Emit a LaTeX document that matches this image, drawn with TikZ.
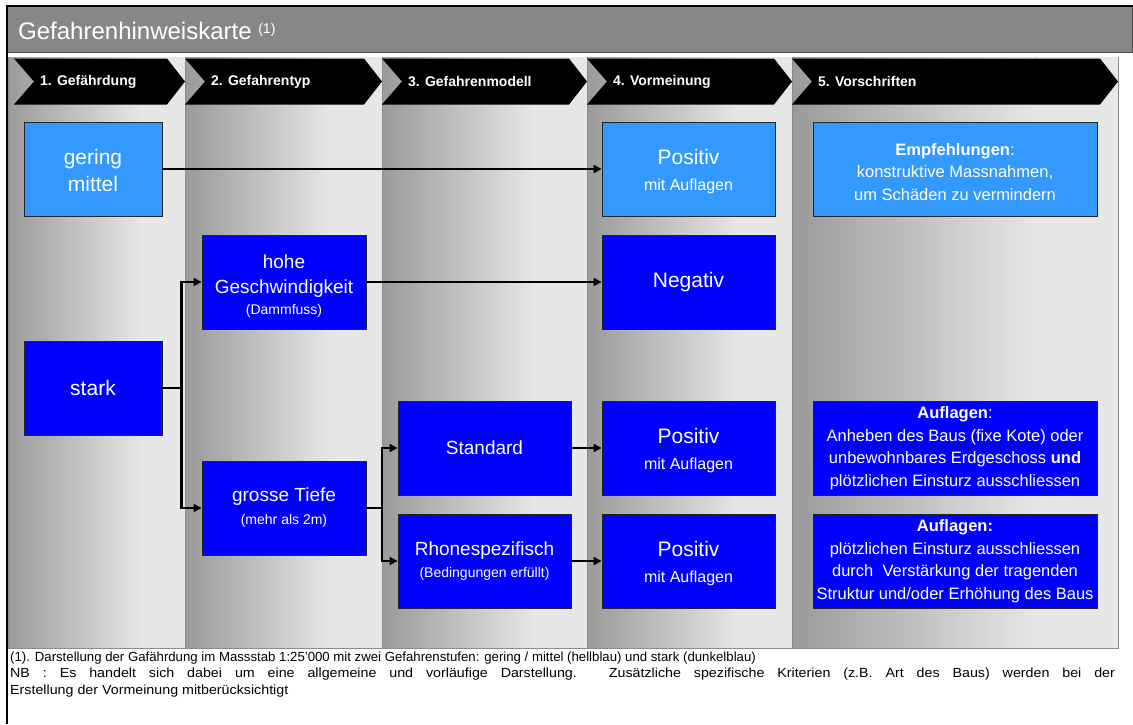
\documentclass[tikz,border=0pt]{standalone}
\usepackage{fontspec}
\setmainfont{Liberation Sans}
\usetikzlibrary{arrows.meta}

\definecolor{lightblue}{HTML}{3399FF}
\definecolor{darkblue}{HTML}{0000FF}
\definecolor{colDark}{HTML}{9A9A9A}
\definecolor{colLight}{HTML}{E7E7E7}
\definecolor{headGray}{HTML}{878787}
\definecolor{edgeGray}{HTML}{8C8C8C}

\newcommand{\fs}[2]{\fontsize{#1}{#2}\selectfont}

\tikzset{
  box/.style={draw=black!85, line width=0.8pt, text=white, align=center,
              inner sep=0pt, minimum height=94pt},
  lbox/.style={box, fill=lightblue},
  dbox/.style={box, fill=darkblue},
  wA/.style={minimum width=138pt},
  wB/.style={minimum width=164pt},
  wC/.style={minimum width=173pt},
  wD/.style={minimum width=284pt},
  wire/.style={line width=2.5pt, draw=black},
  conn/.style={wire, -{Triangle[length=8pt,width=8pt]}},
  chevtext/.style={anchor=west, text=white, inner sep=0pt, font=\bfseries\fs{14}{16}},
  foottext/.style={anchor=base west, inner sep=0pt, font=\fs{13.2}{16.5}},
}

\begin{document}
\begin{tikzpicture}[x=1pt,y=-1pt]
\useasboundingbox (0,0) rectangle (1133,724);
\fill[white] (0,0) rectangle (1133,724);

% shaded columns
\foreach \l/\r in {8/185,185/382,382/587,587/792,792/1118}{
  \fill[left color=colDark,right color=colLight] (\l,57) rectangle ({\l+0.75*(\r-\l)},648);
  \fill[colLight] ({\l+0.75*(\r-\l)},57) rectangle (\r,648);
  \draw[edgeGray, line width=0.8pt] (\l,57) -- (\l,648);
}
\draw[edgeGray, line width=0.8pt] (1118,57) -- (1118,648) -- (8,648);

% step chevrons
\foreach \l/\r/\t [count=\i] in {14/185/1. Gefährdung,185/382/2. Gefahrentyp,382/587/3. Gefahrenmodell,587/792/4. Vormeinung,792/1118/5. Vorschriften}{
  \fill[black] (\l,58.5) -- ({\r-18},58.5) -- (\r,81.5) -- ({\r-18},104.5) -- (\l,104.5) -- ({\l+20},81.5) -- cycle;
  \node[chevtext] (chev\i) at ({\l+26},81.5) {\t};
}

% title bar
\fill[headGray] (7,7) rectangle (1132,52);
\draw[black!70, line width=1pt] (1132,7) -- (1132,52) -- (7,52);
\draw[black, line width=2pt] (6,6) -- (1133,6);
\draw[black, line width=2pt] (7,5) -- (7,724);
\node[anchor=base west, text=white, inner sep=0pt, font=\fs{24}{24}] (title) at (18,39)
  {Gefahrenhinweiskarte \raisebox{6pt}{\fs{14}{14}(1)}};

% boxes
\node[lbox, wA, font=\fs{21}{27}] (gering) at (93,169) {\rule{0pt}{19pt}gering\\mittel};
\node[dbox, wA, font=\fs{21}{28}] (stark) at (93,388) {stark};
\node[dbox, wB, font=\fs{19}{25.5}] (hohe) at (284,282)
  {\rule{0pt}{21pt}hohe\\Geschwindigkeit\\[-5pt]{\fs{14}{16}(Dammfuss)}};
\node[dbox, wB, font=\fs{19}{23}] (grosse) at (284,508)
  {grosse Tiefe\\{\fs{14}{16}(mehr als 2m)}};
\node[dbox, wC, font=\fs{19}{23}] (std) at (484.5,448) {Standard};
\node[dbox, wC, font=\fs{19}{22}] (rhone) at (484.5,561)
  {Rhonespezifisch\\{\fs{14}{16}(Bedingungen erfüllt)}};
\node[lbox, wC, font=\fs{21}{25.5}] (pos1) at (688.5,169)
  {\rule{0pt}{20pt}Positiv\\{\fs{16}{18}mit Auflagen}};
\node[dbox, wC, font=\fs{21}{25}] (neg) at (688.5,282) {Negativ};
\node[dbox, wC, font=\fs{21}{25.5}] (pos2) at (688.5,448)
  {\rule{0pt}{20pt}Positiv\\{\fs{16}{18}mit Auflagen}};
\node[dbox, wC, font=\fs{21}{25.5}] (pos3) at (688.5,561)
  {\rule{0pt}{20pt}Positiv\\{\fs{16}{18}mit Auflagen}};
\node[lbox, wD, font=\fs{16.5}{22.5}] (empf) at (955,169)
  {\rule{0pt}{18pt}\textbf{Empfehlungen}:\\konstruktive Massnahmen,\\um Schäden zu vermindern};
\node[dbox, wD, font=\fs{16.5}{22.5}] (aufl1) at (955,448)
  {\textbf{Auflagen}:\\Anheben des Baus (fixe Kote) oder\\unbewohnbares Erdgeschoss \textbf{und}\\plötzlichen Einsturz ausschliessen};
\node[dbox, wD, font=\fs{16.5}{22.5}] (aufl2) at (955,561)
  {\textbf{Auflagen:}\\plötzlichen Einsturz ausschliessen\\durch\ \ Verstärkung der tragenden\\Struktur und/oder Erhöhung des Baus};

% connectors
\coordinate (sj) at (181.5,388);
\coordinate (gj) at (382,508);
\draw[conn] (gering.east) -- (pos1.west);
\draw[conn] (hohe.east) -- (neg.west);
\draw[wire] (stark.east) -- (sj);
\draw[conn] (sj) |- (hohe.west);
\draw[conn] (sj) |- (grosse.west);
\draw[wire] (grosse.east) -- (gj);
\draw[conn] (gj) |- (std.west);
\draw[conn] (gj) |- (rhone.west);
\draw[conn] (std.east) -- (pos2.west);
\draw[conn] (rhone.east) -- (pos3.west);

% footnotes; the NB paragraph is set justified
\node[foottext] (foot1) at (10,661)
  {(1). Darstellung der Gafährdung im Massstab 1:25’000 mit zwei Gefahrenstufen: gering / mittel (hellblau) und stark (dunkelblau)};
\node[foottext] (foot2) at (10,677.5)
  {\scalebox{1.08}[1]{\makebox[1023pt][s]{NB : Es handelt sich dabei um eine allgemeine und vorläufige Darstellung. Zusätzliche spezifische Kriterien (z.B. Art des Baus) werden bei der}}};
\node[foottext] (foot3) at (10,694)
  {\scalebox{1.08}[1]{Erstellung der Vormeinung mitberücksichtigt}};
\end{tikzpicture}
\end{document}
